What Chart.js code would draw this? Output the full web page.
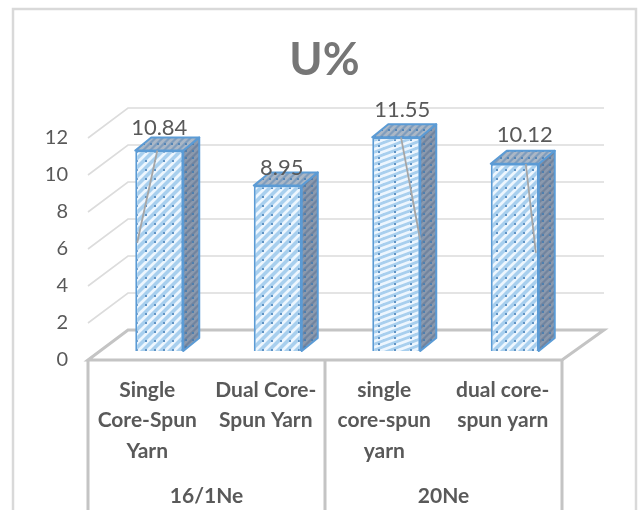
<!DOCTYPE html>
<html>
<head>
<meta charset="utf-8">
<style>html,body{margin:0;padding:0;background:#fff}#wrap{width:639px;height:510px}</style>
<script src="https://cdn.jsdelivr.net/npm/chart.js@4"></script>
</head>
<body>
<div id="wrap"><canvas id="c" width="639" height="510"></canvas></div>
<script>
const categories = [
  ['Single', 'Core-Spun', 'Yarn'],
  ['Dual Core-', 'Spun Yarn'],
  ['single', 'core-spun', 'yarn'],
  ['dual core-', 'spun yarn']
];
const groups = ['16/1Ne', '20Ne'];
const uPercent = [10.84, 8.95, 11.55, 10.12];
const valueTicks = [0, 2, 4, 6, 8, 10, 12];

// Pseudo-3D geometry: the axes sit on the front plane, the wall is pushed back
// by WALL, and the bars stand part of the way into the floor.
const WALL = { dx: 40, dy: -30 };
const BAR_PLANE = { dx: 12, dy: -9 };
const BAR_DEPTH = { dx: 16, dy: -13 };
const LABEL_NUDGE = [[0, -23], [4, -18], [6, -27], [10, -29]];
// Leader lines: [fraction across bar at the top, fraction across at the end, value at the end]
const LEADERS = [[0.46, 0.04, 5.85], null, [0.6, 1.0, 6.0], [0.73, 0.94, 5.3]];

const FONT = 'Lato, "Open Sans", sans-serif';
const TEXT = '#595959';

// Repeating diagonal hatch with a dot between the stripes; w and h set the slope.
function hatch(w, h, base, stripe, dot) {
  const p = document.createElement('canvas');
  p.width = w;
  p.height = h;
  const g = p.getContext('2d');
  g.fillStyle = base;
  g.fillRect(0, 0, w, h);
  g.strokeStyle = stripe;
  g.lineWidth = 2.8;
  g.beginPath();
  for (let k = -1; k <= 1; k++) {
    g.moveTo(k * w - w / h, h + 1);
    g.lineTo(k * w + w + w / h, -1);
  }
  g.stroke();
  g.fillStyle = dot;
  g.fillRect(w - 2, h - 2, 2, 2);
  return g.createPattern(p, 'repeat');
}

const ctx0 = document.getElementById('c').getContext('2d');
const steepFill = hatch(9, 9, '#a8cfee', '#edf6fe', '#5f93c4');
const flatFill = hatch(16, 6, '#a8cfee', '#edf6fe', '#5f93c4');
const frontFills = [steepFill, steepFill, flatFill, steepFill];
const sideFill = hatch(7, 7, '#71849f', '#8b99ad', '#4f7fae');
const topFill = hatch(7, 7, '#7f9dbd', '#aab7c6', '#5585b5');

const box3d = {
  id: 'box3d',
  beforeDatasetsDraw(chart) {
    const { ctx, chartArea: a, scales: { y } } = chart;
    ctx.save();
    // outer chart frame
    ctx.strokeStyle = '#d9d9d9';
    ctx.lineWidth = 2.5;
    ctx.strokeRect(13, 9, 623, 530);
    // gridlines across the side and back walls
    ctx.strokeStyle = '#dcdcdc';
    ctx.lineWidth = 1.6;
    ctx.beginPath();
    valueTicks.slice(1).forEach(v => {
      const py = y.getPixelForValue(v);
      ctx.moveTo(a.left, py);
      ctx.lineTo(a.left + WALL.dx, py + WALL.dy);
      ctx.lineTo(a.right + WALL.dx + 2, py + WALL.dy);
    });
    ctx.stroke();
    // floor outline
    const base = y.getPixelForValue(0);
    ctx.strokeStyle = '#c4c4c4';
    ctx.lineWidth = 3;
    ctx.beginPath();
    ctx.moveTo(a.left, base);
    ctx.lineTo(a.left + WALL.dx, base + WALL.dy);
    ctx.lineTo(a.right + WALL.dx + 2, base + WALL.dy);
    ctx.lineTo(a.right, base);
    ctx.closePath();
    ctx.stroke();
    // category dividers hanging below the floor
    ctx.beginPath();
    [a.left, (a.left + a.right) / 2, a.right].forEach(x => {
      ctx.moveTo(x, base);
      ctx.lineTo(x, chart.height);
    });
    ctx.stroke();
    ctx.restore();
  },
  beforeDatasetDraw(chart) {
    chart.ctx.save();
    chart.ctx.translate(BAR_PLANE.dx, BAR_PLANE.dy);
  },
  afterDatasetDraw(chart, args) {
    const { ctx } = chart;
    const yScale = chart.scales.y;
    args.meta.data.forEach((bar, i) => {
      const { x, y, base, width } = bar.getProps(['x', 'y', 'base', 'width'], true);
      const l = x - width / 2, r = x + width / 2;
      ctx.lineWidth = 2;
      ctx.lineJoin = 'round';
      ctx.strokeStyle = '#5b9bd5';
      // right-hand side face
      ctx.beginPath();
      ctx.moveTo(r, y);
      ctx.lineTo(r + BAR_DEPTH.dx, y + BAR_DEPTH.dy);
      ctx.lineTo(r + BAR_DEPTH.dx, base + BAR_DEPTH.dy);
      ctx.lineTo(r, base);
      ctx.closePath();
      ctx.fillStyle = sideFill;
      ctx.fill();
      ctx.stroke();
      // top face
      ctx.beginPath();
      ctx.moveTo(l, y);
      ctx.lineTo(l + BAR_DEPTH.dx, y + BAR_DEPTH.dy);
      ctx.lineTo(r + BAR_DEPTH.dx, y + BAR_DEPTH.dy);
      ctx.lineTo(r, y);
      ctx.closePath();
      ctx.fillStyle = topFill;
      ctx.fill();
      ctx.stroke();
      // leader line from the value label down the bar
      const lead = LEADERS[i];
      if (lead) {
        ctx.strokeStyle = '#a6a6a6';
        ctx.lineWidth = 1.8;
        ctx.beginPath();
        ctx.moveTo(l + lead[0] * width, y);
        ctx.lineTo(l + lead[1] * width, yScale.getPixelForValue(lead[2]));
        ctx.stroke();
      }
      // value label above the bar
      ctx.fillStyle = TEXT;
      ctx.font = '22px ' + FONT;
      ctx.textAlign = 'center';
      ctx.textBaseline = 'middle';
      ctx.fillText(uPercent[i].toFixed(2), x + LABEL_NUDGE[i][0], y + LABEL_NUDGE[i][1]);
    });
    ctx.restore();
  }
};

new Chart(ctx0, {
  type: 'bar',
  data: {
    labels: categories,
    datasets: [{
      data: uPercent,
      backgroundColor: frontFills,
      borderColor: '#5b9bd5',
      borderWidth: 2,
      barPercentage: 0.405,
      categoryPercentage: 1
    }]
  },
  plugins: [box3d],
  options: {
    responsive: false,
    animation: false,
    events: [],
    layout: { padding: { left: 10, right: 0, top: 0, bottom: 0 } },
    plugins: {
      legend: { display: false },
      tooltip: { enabled: false },
      title: {
        display: true,
        text: 'U%',
        color: '#767676',
        font: { family: FONT, size: 45, weight: '700', lineHeight: 1.2 },
        padding: { top: 33, bottom: 51 }
      }
    },
    scales: {
      y: {
        min: 0,
        max: 12,
        afterBuildTicks(s) { s.ticks = valueTicks.map(value => ({ value })); },
        afterFit(s) { s.width = 78; },
        border: { display: false },
        grid: { display: false, drawTicks: false },
        ticks: { color: TEXT, padding: 20, font: { family: FONT, size: 20 } }
      },
      // empty axis that only reserves the margin to the right of the floor
      margin: {
        type: 'linear',
        position: 'right',
        afterFit(s) { s.width = 77; },
        border: { display: false },
        grid: { display: false, drawTicks: false },
        ticks: { display: false }
      },
      x: {
        position: 'bottom',
        afterFit(s) { s.height = 122; },
        border: { display: false },
        grid: { display: false, drawTicks: false },
        ticks: {
          color: TEXT, padding: 15, maxRotation: 0, autoSkip: false,
          font: { family: FONT, size: 21, weight: '700', lineHeight: 1.45 }
        }
      },
      x2: {
        type: 'category',
        position: 'bottom',
        labels: groups,
        offset: true,
        afterFit(s) { s.height = 28; },
        border: { display: false },
        grid: { display: false, drawTicks: false },
        ticks: {
          color: TEXT, padding: 2, maxRotation: 0,
          font: { family: FONT, size: 21, weight: '700' }
        }
      }
    }
  }
});
</script>
</body>
</html>
